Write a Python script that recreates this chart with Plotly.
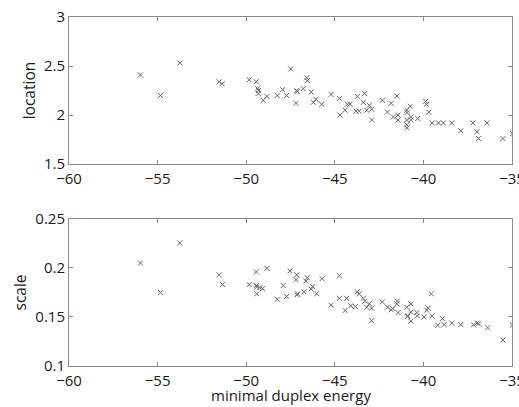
import plotly.graph_objects as go
from plotly.subplots import make_subplots

# Minimal duplex energy vs fitted location parameter
energy_loc = [-55.97, -54.84, -53.75, -51.53, -51.36, -49.83, -49.43, -49.35, -49.30, -49.32,
              -49.04, -48.83, -48.25, -47.94, -47.72, -47.49, -47.15, -47.12, -47.19, -46.78,
              -46.59, -46.55, -46.33, -46.21, -46.06, -45.74, -45.21, -44.74, -44.71, -44.42,
              -44.29, -44.14, -43.73, -43.80, -43.62, -43.33, -43.39, -43.20, -43.05, -42.92,
              -42.92, -42.32, -42.03, -41.82, -41.50, -41.69, -41.43, -41.43, -40.94, -40.92,
              -40.94, -40.94, -40.92, -40.75, -40.71, -40.71, -40.32, -39.87, -39.83, -39.70,
              -39.51, -39.15, -38.87, -38.40, -37.89, -37.21, -36.98, -36.89, -36.42, -35.51,
              -34.97]
location = [2.41, 2.20, 2.53, 2.34, 2.32, 2.36, 2.34, 2.27, 2.25, 2.22,
            2.15, 2.19, 2.20, 2.26, 2.20, 2.47, 2.25, 2.24, 2.12, 2.27,
            2.38, 2.35, 2.235, 2.13, 2.16, 2.11, 2.21, 2.17, 2.00, 2.05,
            2.11, 2.11, 2.19, 2.04, 2.04, 2.22, 2.13, 2.05, 2.10, 2.06,
            1.95, 2.15, 2.03, 2.12, 2.195, 1.98, 2.00, 1.95, 2.05, 2.025,
            1.95, 1.90, 1.87, 2.09, 1.98, 1.95, 1.965, 2.14, 2.11, 2.03,
            1.92, 1.92, 1.92, 1.92, 1.84, 1.92, 1.83, 1.76, 1.92, 1.76,
            1.81]

# Minimal duplex energy vs fitted scale parameter
energy_scale = [-55.97, -54.84, -53.75, -51.53, -51.33, -49.83, -49.43, -49.43, -49.41, -49.41,
                -49.23, -49.07, -48.83, -48.25, -47.91, -47.72, -47.53, -47.15, -47.19, -47.12,
                -47.10, -46.74, -46.55, -46.63, -46.33, -46.25, -46.03, -45.72, -45.21, -44.74,
                -44.74, -44.42, -44.33, -44.10, -43.84, -43.73, -43.62, -43.39, -43.31, -43.20,
                -43.05, -42.92, -42.92, -42.32, -42.03, -41.82, -41.73, -41.50, -41.47, -41.43,
                -40.94, -40.90, -40.88, -40.71, -40.71, -40.71, -40.37, -40.34, -39.96, -39.81,
                -39.73, -39.55, -39.51, -38.93, -39.19, -38.83, -38.40, -37.89, -37.17, -36.98,
                -36.89, -36.38, -35.51, -34.97]
scale = [0.205, 0.175, 0.2255, 0.193, 0.183, 0.183, 0.196, 0.182, 0.1805, 0.1736,
         0.180, 0.179, 0.1995, 0.168, 0.182, 0.171, 0.197, 0.193, 0.188, 0.1725,
         0.1735, 0.1757, 0.190, 0.1866, 0.1784, 0.181, 0.1736, 0.189, 0.162, 0.192,
         0.169, 0.1566, 0.169, 0.1614, 0.1607, 0.1757, 0.1736, 0.169, 0.166, 0.160,
         0.1634, 0.159, 0.1463, 0.1654, 0.160, 0.1573, 0.1586, 0.1634, 0.1662, 0.1545,
         0.160, 0.1504, 0.1510, 0.1634, 0.155, 0.1457, 0.1545, 0.151, 0.150, 0.157,
         0.159, 0.1736, 0.151, 0.1484, 0.1416, 0.1422, 0.1437, 0.1422, 0.142, 0.1437,
         0.143, 0.139, 0.1266, 0.1416]

x_ticks = [-60, -55, -50, -45, -40, -35]
loc_ticks = [1.5, 2, 2.5, 3]
scale_ticks = [0.1, 0.15, 0.2, 0.25]

FONT = "Open Sans"
AXIS_COLOR = "#8a8a8a"
MARK_COLOR = "#666666"
TEXT_COLOR = "#1a1a1a"

WIDTH, HEIGHT = 519, 407
MARGIN = dict(l=69, r=7, t=17, b=41)

fig = make_subplots(rows=2, cols=1, vertical_spacing=0.157)

marker = dict(symbol="x-thin", size=5, line=dict(width=1, color=MARK_COLOR), color=MARK_COLOR)
fig.add_trace(go.Scatter(x=energy_loc, y=location, mode="markers", marker=marker,
                         showlegend=False), row=1, col=1)
fig.add_trace(go.Scatter(x=energy_scale, y=scale, mode="markers", marker=marker,
                         showlegend=False), row=2, col=1)

axis_common = dict(showline=True, linecolor=AXIS_COLOR, linewidth=1, mirror="ticks",
                   ticks="inside", ticklen=4, tickcolor=AXIS_COLOR, showgrid=False,
                   zeroline=False, ticklabeloverflow="allow", automargin=False,
                   tickfont=dict(family=FONT, size=15, color=TEXT_COLOR))

fig.update_xaxes(range=[-60, -35], tickvals=x_ticks, ticklabelstandoff=1,
                 ticktext=["\u2212" + str(abs(t)) for t in x_ticks], **axis_common)
fig.update_yaxes(range=[1.5, 3], tickvals=loc_ticks, ticktext=["1.5", "2", "2.5", "3"],
                 row=1, col=1, **axis_common)
fig.update_yaxes(range=[0.1, 0.25], tickvals=scale_ticks,
                 ticktext=["0.1", "0.15", "0.2", "0.25"], row=2, col=1, **axis_common)

title_font = dict(family=FONT, size=15.5, color=TEXT_COLOR)
fig.update_yaxes(title=dict(text="location", font=title_font, standoff=4), row=1, col=1)
fig.update_yaxes(title=dict(text="scale", font=title_font, standoff=4), row=2, col=1)

# Shared x-axis label, pinned to the bottom edge of the figure
plot_h = HEIGHT - MARGIN["t"] - MARGIN["b"]
fig.add_annotation(text="minimal duplex energy", xref="paper", yref="paper",
                   x=0.5, y=-MARGIN["b"] / plot_h, xanchor="center", yanchor="bottom",
                   showarrow=False, font=dict(family=FONT, size=15, color=TEXT_COLOR))

fig.update_layout(width=WIDTH, height=HEIGHT, margin=MARGIN,
                  plot_bgcolor="white", paper_bgcolor="white")

fig.write_html("out.html")
